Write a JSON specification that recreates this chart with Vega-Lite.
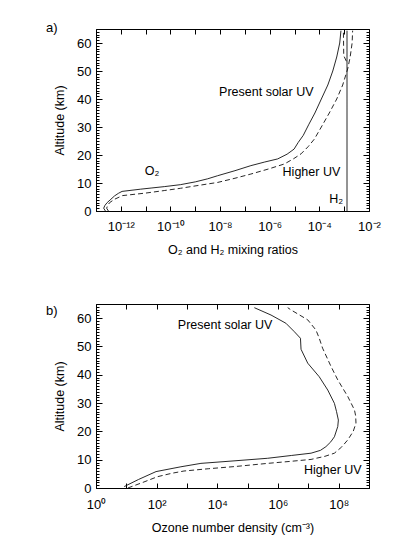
{
  "$schema": "https://vega.github.io/schema/vega-lite/v6.json",
  "padding": {"left": 45, "top": 21, "right": 5, "bottom": 5},
  "spacing": 47,
  "datasets": {
    "a_present": [
      {"alt": 0, "mix": 2.4e-13}, {"alt": 1, "mix": 2.04e-13}, {"alt": 2, "mix": 2.29e-13},
      {"alt": 3, "mix": 2.82e-13}, {"alt": 4.2, "mix": 3.98e-13}, {"alt": 5.4, "mix": 5.62e-13},
      {"alt": 6.3, "mix": 7.94e-13}, {"alt": 7.0, "mix": 1.12e-12}, {"alt": 7.8, "mix": 6.31e-12},
      {"alt": 8.2, "mix": 1.66e-11}, {"alt": 8.7, "mix": 5.62e-11}, {"alt": 9.4, "mix": 2.51e-10},
      {"alt": 10.4, "mix": 1e-9}, {"alt": 11.5, "mix": 3.16e-9}, {"alt": 12.6, "mix": 7.94e-9},
      {"alt": 14.4, "mix": 3.98e-8}, {"alt": 16.2, "mix": 1.74e-7}, {"alt": 17.5, "mix": 6.31e-7},
      {"alt": 18.6, "mix": 2.09e-6}, {"alt": 20.3, "mix": 5.01e-6}, {"alt": 22.1, "mix": 9.55e-6},
      {"alt": 24.5, "mix": 1.41e-5}, {"alt": 27, "mix": 2.24e-5}, {"alt": 31, "mix": 3.8e-5},
      {"alt": 35, "mix": 6.61e-5}, {"alt": 40, "mix": 1.2e-4}, {"alt": 45, "mix": 2.19e-4},
      {"alt": 50, "mix": 3.47e-4}, {"alt": 55, "mix": 5.01e-4}, {"alt": 60, "mix": 6.61e-4},
      {"alt": 64.4, "mix": 7.41e-4}
    ],
    "a_higher": [
      {"alt": 0, "mix": 3.16e-13}, {"alt": 1, "mix": 2.69e-13}, {"alt": 2, "mix": 2.95e-13},
      {"alt": 3, "mix": 3.55e-13}, {"alt": 4.2, "mix": 5.62e-13}, {"alt": 5.5, "mix": 1.17e-12},
      {"alt": 6.4, "mix": 1e-11}, {"alt": 7.3, "mix": 5.62e-11}, {"alt": 8.1, "mix": 2.51e-10},
      {"alt": 9.0, "mix": 1.07e-9}, {"alt": 10.2, "mix": 7.94e-9}, {"alt": 11.7, "mix": 3.98e-8},
      {"alt": 13.2, "mix": 1.74e-7}, {"alt": 15, "mix": 8.91e-7}, {"alt": 16.8, "mix": 3.89e-6},
      {"alt": 18.6, "mix": 8.91e-6}, {"alt": 20.4, "mix": 1.82e-5}, {"alt": 23, "mix": 3.55e-5},
      {"alt": 25.7, "mix": 6.31e-5}, {"alt": 30, "mix": 1.2e-4}, {"alt": 35, "mix": 2.51e-4},
      {"alt": 40, "mix": 5.01e-4}, {"alt": 45, "mix": 8.71e-4}, {"alt": 50.7, "mix": 1.38e-3},
      {"alt": 55, "mix": 1.74e-3}, {"alt": 60, "mix": 2.09e-3}, {"alt": 64.4, "mix": 2.19e-3}
    ],
    "a_h2": [
      {"alt": 0, "mix": 1.3e-3, "run": "present"},
      {"alt": 64.4, "mix": 1.3e-3, "run": "present"},
      {"alt": 53.5, "mix": 1.22e-3, "run": "higher"},
      {"alt": 55.5, "mix": 9.6e-4, "run": "higher"},
      {"alt": 64.4, "mix": 9.3e-4, "run": "higher"}
    ],
    "a_text": [
      {"mix": 9.1e-9, "alt": 42.5, "label": "Present solar UV"},
      {"mix": 3.3e-6, "alt": 13.8, "label": "Higher UV"},
      {"mix": 9.3e-12, "alt": 14.2, "label": "O₂"},
      {"mix": 2.5e-4, "alt": 4.4, "label": "H₂"}
    ],
    "b_present": [
      {"alt": 0.5, "oz": 8.5}, {"alt": 3, "oz": 25.1}, {"alt": 5.8, "oz": 95.5},
      {"alt": 7.5, "oz": 631}, {"alt": 8.7, "oz": 2880}, {"alt": 9.5, "oz": 28200},
      {"alt": 10.5, "oz": 457000}, {"alt": 11.5, "oz": 2820000}, {"alt": 12.3, "oz": 12300000},
      {"alt": 13.3, "oz": 25100000}, {"alt": 14.6, "oz": 38000000}, {"alt": 16.3, "oz": 55000000},
      {"alt": 18.1, "oz": 72400000}, {"alt": 21.7, "oz": 93300000}, {"alt": 24, "oz": 97700000},
      {"alt": 27, "oz": 85000000}, {"alt": 29.9, "oz": 72400000}, {"alt": 34.6, "oz": 43700000},
      {"alt": 39.3, "oz": 22900000}, {"alt": 44.1, "oz": 9550000}, {"alt": 49, "oz": 5750000},
      {"alt": 52.9, "oz": 5500000}, {"alt": 55.2, "oz": 3470000}, {"alt": 58.2, "oz": 1820000},
      {"alt": 61.1, "oz": 589000}, {"alt": 63.7, "oz": 166000}
    ],
    "b_higher": [
      {"alt": 0, "oz": 11.2}, {"alt": 2, "oz": 35.5}, {"alt": 4, "oz": 107},
      {"alt": 5.2, "oz": 316}, {"alt": 6.0, "oz": 794}, {"alt": 6.8, "oz": 5010},
      {"alt": 7.6, "oz": 39800}, {"alt": 8.7, "oz": 457000}, {"alt": 9.4, "oz": 2510000},
      {"alt": 10.1, "oz": 12300000}, {"alt": 11.2, "oz": 35500000}, {"alt": 12.3, "oz": 72400000},
      {"alt": 14.5, "oz": 126000000}, {"alt": 17, "oz": 200000000}, {"alt": 20, "oz": 302000000},
      {"alt": 22.9, "oz": 372000000}, {"alt": 25.5, "oz": 363000000}, {"alt": 27.6, "oz": 331000000},
      {"alt": 32.3, "oz": 200000000}, {"alt": 38.2, "oz": 93300000}, {"alt": 42.9, "oz": 56200000},
      {"alt": 49.4, "oz": 29500000}, {"alt": 52.9, "oz": 22900000}, {"alt": 55.8, "oz": 17800000},
      {"alt": 59.4, "oz": 9550000}, {"alt": 62.9, "oz": 2690000}, {"alt": 63.7, "oz": 2090000}
    ],
    "b_text1": [
      {"oz": 500, "alt": 57.6, "label": "Present solar UV"}
    ],
    "b_text2": [
      {"oz": 7200000, "alt": 6.4, "label": "Higher UV"}
    ]
  },
  "vconcat": [
    {
      "title": {"text": "a)", "dx": -50, "offset": -16, "baseline": "alphabetic"},
      "width": 273,
      "height": 182,
      "resolve": {"axis": {"x": "independent", "y": "independent"}},
      "layer": [
        {
          "data": {"name": "a_present"},
          "mark": {"type": "line", "stroke": "#111111", "strokeWidth": 0.9},
          "encoding": {
            "x": {"field": "mix", "type": "quantitative",
              "scale": {"type": "log", "domain": [1e-13, 0.01], "nice": false},
              "axis": {"orient": "bottom", "values": [1e-13, 1e-12, 1e-11, 1e-10, 1e-9, 1e-8, 1e-7, 1e-6, 1e-5, 1e-4, 1e-3, 1e-2],
                "labelExpr": "['', '10⁻¹²', '', '10⁻¹⁰', '', '10⁻⁸', '', '10⁻⁶', '', '10⁻⁴', '', '10⁻²'][round(log(datum.value)/LN10)+13]",
                "title": "O₂ and H₂ mixing ratios", "tickSize": -5, "labelPadding": 14, "titlePadding": 10}},
            "y": {"field": "alt", "type": "quantitative",
              "scale": {"domain": [0, 65], "nice": false, "zero": false},
              "axis": {"orient": "left", "values": [0, 10, 20, 30, 40, 50, 60], "title": "Altitude (km)", "tickSize": -6, "labelPadding": 11, "titlePadding": 10}},
            "order": {"field": "alt", "type": "quantitative"}
          }
        },
        {
          "data": {"name": "a_higher"},
          "mark": {"type": "line", "stroke": "#111111", "strokeWidth": 0.9, "strokeDash": [5, 3]},
          "encoding": {
            "x": {"field": "mix", "type": "quantitative",
              "scale": {"type": "log", "domain": [1e-13, 0.01], "nice": false},
              "axis": {"orient": "top", "values": [1e-13, 1e-12, 1e-11, 1e-10, 1e-9, 1e-8, 1e-7, 1e-6, 1e-5, 1e-4, 1e-3, 1e-2], "labels": false, "title": null, "tickSize": -5}},
            "y": {"field": "alt", "type": "quantitative",
              "scale": {"domain": [0, 65], "nice": false, "zero": false},
              "axis": {"orient": "right", "values": [0, 10, 20, 30, 40, 50, 60], "labels": false, "title": null, "tickSize": -6}},
            "order": {"field": "alt", "type": "quantitative"}
          }
        },
        {
          "data": {"name": "a_h2"},
          "mark": {"type": "line", "stroke": "#111111", "strokeWidth": 0.9},
          "encoding": {
            "x": {"field": "mix", "type": "quantitative",
              "scale": {"type": "log", "domain": [1e-13, 0.01], "nice": false}, "axis": null},
            "y": {"field": "alt", "type": "quantitative",
              "scale": {"domain": [0, 65], "nice": false, "zero": false},
              "axis": {"orient": "left", "values": [0,1,2,3,4,5,6,7,8,9,10,11,12,13,14,15,16,17,18,19,20,21,22,23,24,25,26,27,28,29,30,31,32,33,34,35,36,37,38,39,40,41,42,43,44,45,46,47,48,49,50,51,52,53,54,55,56,57,58,59,60,61,62,63,64,65], "labels": false, "title": null, "tickSize": -3}},
            "strokeDash": {"field": "run", "type": "nominal", "scale": {"domain": ["present", "higher"], "range": [[1, 0], [5, 3]]}, "legend": null},
            "order": {"field": "alt", "type": "quantitative"}
          }
        },
        {
          "data": {"name": "a_text"},
          "mark": {"type": "text", "align": "left", "baseline": "middle", "fontSize": 12.5, "font": "Liberation Sans", "color": "black"},
          "encoding": {
            "x": {"field": "mix", "type": "quantitative",
              "scale": {"type": "log", "domain": [1e-13, 0.01], "nice": false}, "axis": null},
            "y": {"field": "alt", "type": "quantitative",
              "scale": {"domain": [0, 65], "nice": false, "zero": false},
              "axis": {"orient": "right", "values": [0,1,2,3,4,5,6,7,8,9,10,11,12,13,14,15,16,17,18,19,20,21,22,23,24,25,26,27,28,29,30,31,32,33,34,35,36,37,38,39,40,41,42,43,44,45,46,47,48,49,50,51,52,53,54,55,56,57,58,59,60,61,62,63,64,65], "labels": false, "title": null, "tickSize": -3}},
            "text": {"field": "label", "type": "nominal"}
          }
        }
      ]
    },
    {
      "title": {"text": "b)", "dx": -50, "offset": -24, "baseline": "alphabetic"},
      "width": 273,
      "height": 184,
      "resolve": {"axis": {"x": "independent", "y": "independent"}},
      "layer": [
        {
          "data": {"name": "b_present"},
          "mark": {"type": "line", "stroke": "#111111", "strokeWidth": 0.9},
          "encoding": {
            "x": {"field": "oz", "type": "quantitative",
              "scale": {"type": "log", "domain": [1, 1e9], "nice": false},
              "axis": {"orient": "bottom", "values": [1, 10, 100, 1000, 10000, 100000, 1000000, 10000000, 100000000, 1000000000],
                "labelExpr": "['10⁰', '', '10²', '', '10⁴', '', '10⁶', '', '10⁸', ''][round(log(datum.value)/LN10)]",
                "title": "Ozone number density (cm⁻³)", "tickSize": -5, "labelPadding": 15, "titlePadding": 10}},
            "y": {"field": "alt", "type": "quantitative",
              "scale": {"domain": [0, 65], "nice": false, "zero": false},
              "axis": {"orient": "left", "values": [0, 10, 20, 30, 40, 50, 60], "title": "Altitude (km)", "tickSize": -6, "labelPadding": 11, "titlePadding": 10}},
            "order": {"field": "alt", "type": "quantitative"}
          }
        },
        {
          "data": {"name": "b_higher"},
          "mark": {"type": "line", "stroke": "#111111", "strokeWidth": 0.9, "strokeDash": [5, 3]},
          "encoding": {
            "x": {"field": "oz", "type": "quantitative",
              "scale": {"type": "log", "domain": [1, 1e9], "nice": false},
              "axis": {"orient": "top", "values": [1, 10, 100, 1000, 10000, 100000, 1000000, 10000000, 100000000, 1000000000], "labels": false, "title": null, "tickSize": -5}},
            "y": {"field": "alt", "type": "quantitative",
              "scale": {"domain": [0, 65], "nice": false, "zero": false},
              "axis": {"orient": "right", "values": [0, 10, 20, 30, 40, 50, 60], "labels": false, "title": null, "tickSize": -6}},
            "order": {"field": "alt", "type": "quantitative"}
          }
        },
        {
          "data": {"name": "b_text1"},
          "mark": {"type": "text", "align": "left", "baseline": "middle", "fontSize": 12.5, "font": "Liberation Sans", "color": "black"},
          "encoding": {
            "x": {"field": "oz", "type": "quantitative",
              "scale": {"type": "log", "domain": [1, 1e9], "nice": false}, "axis": null},
            "y": {"field": "alt", "type": "quantitative",
              "scale": {"domain": [0, 65], "nice": false, "zero": false},
              "axis": {"orient": "left", "values": [0,1,2,3,4,5,6,7,8,9,10,11,12,13,14,15,16,17,18,19,20,21,22,23,24,25,26,27,28,29,30,31,32,33,34,35,36,37,38,39,40,41,42,43,44,45,46,47,48,49,50,51,52,53,54,55,56,57,58,59,60,61,62,63,64,65], "labels": false, "title": null, "tickSize": -3}},
            "text": {"field": "label", "type": "nominal"}
          }
        },
        {
          "data": {"name": "b_text2"},
          "mark": {"type": "text", "align": "left", "baseline": "middle", "fontSize": 12.5, "font": "Liberation Sans", "color": "black"},
          "encoding": {
            "x": {"field": "oz", "type": "quantitative",
              "scale": {"type": "log", "domain": [1, 1e9], "nice": false}, "axis": null},
            "y": {"field": "alt", "type": "quantitative",
              "scale": {"domain": [0, 65], "nice": false, "zero": false},
              "axis": {"orient": "right", "values": [0,1,2,3,4,5,6,7,8,9,10,11,12,13,14,15,16,17,18,19,20,21,22,23,24,25,26,27,28,29,30,31,32,33,34,35,36,37,38,39,40,41,42,43,44,45,46,47,48,49,50,51,52,53,54,55,56,57,58,59,60,61,62,63,64,65], "labels": false, "title": null, "tickSize": -3}},
            "text": {"field": "label", "type": "nominal"}
          }
        }
      ]
    }
  ],
  "config": {
    "font": "Liberation Sans",
    "background": "white",
    "view": {"stroke": "black", "strokeWidth": 1},
    "axis": {"domain": false, "grid": false, "tickColor": "black", "tickWidth": 1, "labelColor": "black", "titleColor": "black",
      "labelFont": "Liberation Sans", "titleFont": "Liberation Sans", "labelFontSize": 13, "titleFontSize": 12.5, "titleFontWeight": "normal",
      "labelOverlap": false, "labelFlush": false, "labelBound": false},
    "title": {"font": "Liberation Sans", "fontSize": 13, "fontWeight": "normal", "color": "black", "anchor": "start", "frame": "group"}
  }
}
